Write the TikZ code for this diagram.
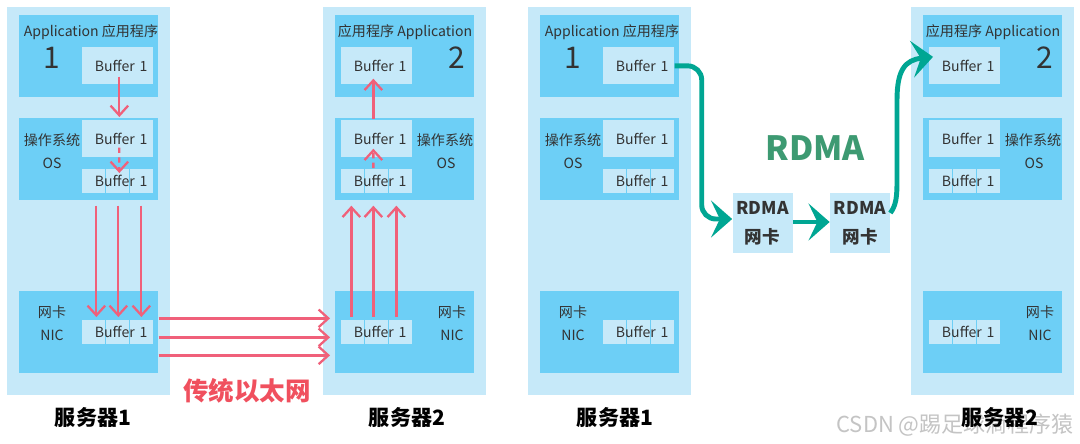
\documentclass[tikz,border=0pt]{standalone}
\usepackage{fontspec}
\setmainfont{Noto Sans CJK SC}
\usetikzlibrary{arrows.meta,calc,positioning}
\definecolor{hostbg}{HTML}{C6E9F9}
\definecolor{layer}{HTML}{6DCFF6}
\definecolor{cell}{HTML}{C6E9F9}
\definecolor{ink}{HTML}{333333}
\definecolor{copyred}{HTML}{F0607A}
\definecolor{ethred}{HTML}{F0505E}
\definecolor{rdmateal}{HTML}{00A693}
\definecolor{rdmagreen}{HTML}{3D9A72}
\definecolor{mark}{HTML}{C4C4C4}
\tikzset{host/.style={fill=hostbg,minimum width=32.6mm,minimum height=77.6mm,anchor=north west,inner sep=0},
 layerbox/.style={fill=layer,minimum width=27.8mm,minimum height=16.4mm,anchor=north west,inner sep=0},
 bufbox/.style={fill=cell,text width=11.8mm,align=right,inner xsep=1.2mm,inner ysep=0,minimum height=7.4mm,anchor=north west,font=\fontsize{8}{10}\selectfont,text=ink},
 cellbox/.style={fill=cell,minimum width=4.6mm,minimum height=4.8mm,anchor=north west,inner sep=0},
 note/.style={font=\fontsize{8}{10}\selectfont,text=ink,inner sep=0},
 bignum/.style={font=\fontsize{17}{20}\selectfont,text=ink,inner sep=0},
 hostname/.style={font=\bfseries\fontsize{12}{14}\selectfont,text=black,inner sep=0},
 copyline/.style={copyred,line width=1.3pt,-{Straight Barb[length=5.5pt,width=10pt]}},
 rdmaline/.style={rdmateal,line width=2.8pt,-{Stealth[length=12pt,width=21pt,inset=5pt]}},
 rdmacard/.style={fill=hostbg,minimum width=12mm,minimum height=12mm,inner sep=0,align=center,font=\bfseries\fontsize{10}{16.5}\selectfont,text=ink}}
\begin{document}
\begin{tikzpicture}[x=0.2mm,y=-0.2mm]
\fill[white] (0,0) rectangle (1080,443);
\useasboundingbox (0,0) rectangle (1080,443);
\node[font=\fontsize{12.5}{15}\selectfont,text=mark,inner sep=0] (watermark) at (955,425) {CSDN @踢足球滴程序猿};
% sending side
\foreach \sx/\p/\lx in {0/a/93,521/c/94}{
\begin{scope}[shift={(\sx,0)}]
 \node[host] (\p-host) at (7,7) {};
 \node[layerbox] (\p-app) at (19,15) {};
 \node[layerbox] (\p-os) at (19,118) {};
 \node[layerbox] (\p-nic) at (19,291) {};
 \node[note] (\p-apptitle) at (91,32) {Application 应用程序};
 \node[bignum] (\p-num) at (52,58) {1};
 \node[bufbox] (\p-buf) at (82,47) {Buffer 1};
 \node[bufbox] (\p-osbuf) at (82,120) {Buffer 1};
 \foreach \k in {0,1,2}{
  \node[cellbox] (\p-oscell\k) at (82+24*\k,169) {};
  \node[cellbox] (\p-niccell\k) at (82+24*\k,320) {};
 }
 \node[bufbox,fill=none,minimum height=0pt,anchor=center] (\p-ostext) at (\p-oscell1) {Buffer 1};
 \node[bufbox,fill=none,minimum height=0pt,anchor=center] (\p-nictext) at (\p-niccell1) {Buffer 1};
 \node[note] (\p-ostitle) at (52,140) {操作系统};
 \node[note] (\p-osname) at (52,163) {OS};
 \node[note] (\p-nictitle) at (52,312) {网卡};
 \node[note] (\p-nicname) at (52,335) {NIC};
 \node[hostname] (\p-label) at (\lx,417) {服务器1};
\end{scope}}
% receiving side
\foreach \sx/\p/\lx in {0/b/407,588/d/412}{
\begin{scope}[shift={(\sx,0)}]
 \node[host] (\p-host) at (323,7) {};
 \node[layerbox] (\p-app) at (335,15) {};
 \node[layerbox] (\p-os) at (335,118) {};
 \node[layerbox] (\p-nic) at (335,291) {};
 \node[note] (\p-apptitle) at (405,32) {应用程序 Application};
 \node[bignum] (\p-num) at (457,58) {2};
 \node[bufbox] (\p-buf) at (341,47) {Buffer 1};
 \node[bufbox] (\p-osbuf) at (341,120) {Buffer 1};
 \foreach \k in {0,1,2}{
  \node[cellbox] (\p-oscell\k) at (341+24*\k,169) {};
  \node[cellbox] (\p-niccell\k) at (341+24*\k,320) {};
 }
 \node[bufbox,fill=none,minimum height=0pt,anchor=center] (\p-ostext) at (\p-oscell1) {Buffer 1};
 \node[bufbox,fill=none,minimum height=0pt,anchor=center] (\p-nictext) at (\p-niccell1) {Buffer 1};
 \node[note] (\p-ostitle) at (445,140) {操作系统};
 \node[note] (\p-osname) at (446,163) {OS};
 \node[note] (\p-nictitle) at (452,312) {网卡};
 \node[note] (\p-nicname) at (452,335) {NIC};
 \node[hostname] (\p-label) at (\lx,417) {服务器2};
\end{scope}}
% traditional ethernet copies
\draw[copyline] ($(a-buf.south)+(1.5,-8)$) -- ($(a-osbuf.north)+(1.5,-3)$);
\draw[copyline,dash pattern=on 3pt off 2.5pt] ($(a-osbuf.south)+(1.5,-10)$) -- ($(a-oscell1.north)+(1.5,4)$);
\foreach \k/\dx in {0/2.5,1/0.5,2/-0.5}
 \draw[copyline] ($(a-oscell\k.south)+(\dx,12)$) -- ($(a-niccell\k.north)+(\dx,-3)$);
\foreach \dy in {-14,5,23}
 \draw[copyline] ($(a-nic.east)+(0,\dy)$) -- ($(b-nic.west)+(-5,\dy)$);
\foreach \k/\dx in {0/-1.5,1/-3.5,2/-4.5}
 \draw[copyline] ($(b-niccell\k.north)+(\dx,-3)$) -- ($(b-oscell\k.south)+(\dx,12)$);
\draw[copyline,dash pattern=on 3pt off 2.5pt] ($(b-oscell1.north)+(-3.5,-1)$) -- ($(b-osbuf.south)+(-3.5,-9)$);
\draw[copyline] ($(b-osbuf.north)+(-3.5,-1)$) -- ($(b-buf.south)+(-3.5,-6)$);
\node[font=\bfseries\fontsize{14.5}{17}\selectfont,text=ethred,inner sep=0] (ethtitle) at (247,391) {传统以太网};
% rdma path
\node[rdmacard] (card1) at (762.5,223) {RDMA\\网卡};
\node[rdmacard] (card2) at (860,223) {RDMA\\网卡};
\node[font=\bfseries\fontsize{19}{22}\selectfont,text=rdmagreen,inner sep=0] (rdmatitle) at (815,148) {RDMA};
\draw[rdmaline,rounded corners=8] (c-buf.east) -- ++(27,0) |- ($(card1.west)+(0,-4)$);
\draw[rdmaline] ($(card1.east)+(0,-1)$) -- ($(card2.west)+(0,-1)$);
\draw[rdmaline] ($(card2.east)+(0,-10)$) .. controls (896,205) and (897,198) .. (897,180) -- (897,100) .. controls (897,70) and (905,60) .. ($(d-buf.west)+(4,-9)$);
\end{tikzpicture}
\end{document}
